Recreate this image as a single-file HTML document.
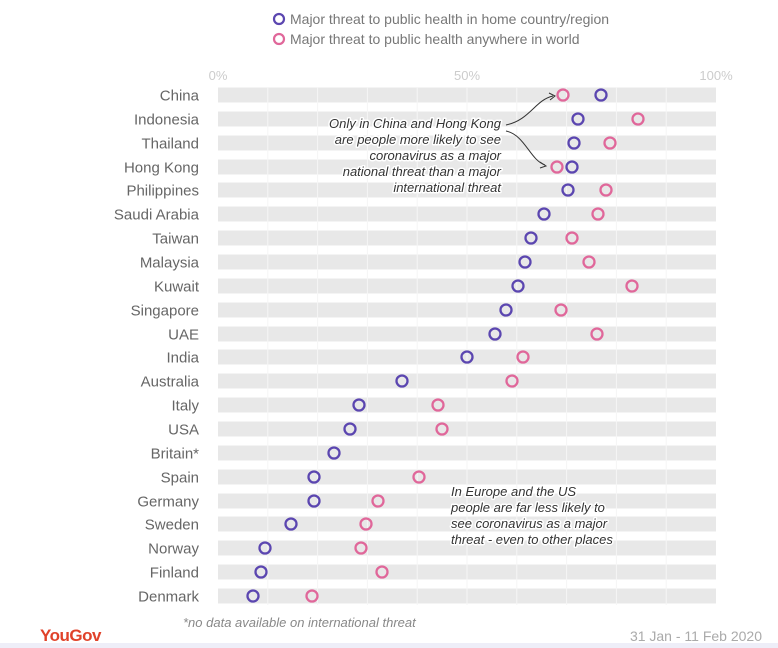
<!DOCTYPE html>
<html><head><meta charset="utf-8"><style>
body{margin:0;background:#fff;}
svg{display:block;font-family:"Liberation Sans",sans-serif;}
</style></head><body>
<svg width="778" height="648" viewBox="0 0 778 648" xmlns="http://www.w3.org/2000/svg">
<rect width="778" height="648" fill="#fff"/>
<rect x="0" y="643" width="778" height="5" fill="#eeeef8"/>
<g font-size="14" fill="#777">
<circle cx="279" cy="19" r="5" fill="none" stroke="#5b46b0" stroke-width="2.2"/>
<text x="290" y="24">Major threat to public health in home country/region</text>
<circle cx="279" cy="39" r="5" fill="none" stroke="#e0679a" stroke-width="2.2"/>
<text x="290" y="44">Major threat to public health anywhere in world</text>
</g>
<g font-size="13" fill="#ccc" text-anchor="middle">
<text x="218" y="80">0%</text><text x="467" y="80">50%</text><text x="716" y="80">100%</text>
</g>
<g fill="#e8e8e8">
<rect x="218" y="87.5" width="498" height="15"/>
<rect x="218" y="111.5" width="498" height="15"/>
<rect x="218" y="135.5" width="498" height="15"/>
<rect x="218" y="159.5" width="498" height="15"/>
<rect x="218" y="182.5" width="498" height="15"/>
<rect x="218" y="206.5" width="498" height="15"/>
<rect x="218" y="230.5" width="498" height="15"/>
<rect x="218" y="254.5" width="498" height="15"/>
<rect x="218" y="278.5" width="498" height="15"/>
<rect x="218" y="302.5" width="498" height="15"/>
<rect x="218" y="326.5" width="498" height="15"/>
<rect x="218" y="349.5" width="498" height="15"/>
<rect x="218" y="373.5" width="498" height="15"/>
<rect x="218" y="397.5" width="498" height="15"/>
<rect x="218" y="421.5" width="498" height="15"/>
<rect x="218" y="445.5" width="498" height="15"/>
<rect x="218" y="469.5" width="498" height="15"/>
<rect x="218" y="493.5" width="498" height="15"/>
<rect x="218" y="516.5" width="498" height="15"/>
<rect x="218" y="540.5" width="498" height="15"/>
<rect x="218" y="564.5" width="498" height="15"/>
<rect x="218" y="588.5" width="498" height="15"/>
</g>
<g fill="#f6f6f6">
<rect x="267.3" y="87" width="1" height="518"/>
<rect x="317.1" y="87" width="1" height="518"/>
<rect x="366.9" y="87" width="1" height="518"/>
<rect x="416.7" y="87" width="1" height="518"/>
<rect x="466.5" y="87" width="1" height="518"/>
<rect x="516.3" y="87" width="1" height="518"/>
<rect x="566.1" y="87" width="1" height="518"/>
<rect x="615.9" y="87" width="1" height="518"/>
<rect x="665.7" y="87" width="1" height="518"/>
</g>
<g font-size="15" fill="#666" text-anchor="end">
<text x="199" y="100.5">China</text>
<text x="199" y="124.5">Indonesia</text>
<text x="199" y="148.5">Thailand</text>
<text x="199" y="172.5">Hong Kong</text>
<text x="199" y="195.5">Philippines</text>
<text x="199" y="219.5">Saudi Arabia</text>
<text x="199" y="243.5">Taiwan</text>
<text x="199" y="267.5">Malaysia</text>
<text x="199" y="291.5">Kuwait</text>
<text x="199" y="315.5">Singapore</text>
<text x="199" y="339.5">UAE</text>
<text x="199" y="362.5">India</text>
<text x="199" y="386.5">Australia</text>
<text x="199" y="410.5">Italy</text>
<text x="199" y="434.5">USA</text>
<text x="199" y="458.5">Britain*</text>
<text x="199" y="482.5">Spain</text>
<text x="199" y="506.5">Germany</text>
<text x="199" y="529.5">Sweden</text>
<text x="199" y="553.5">Norway</text>
<text x="199" y="577.5">Finland</text>
<text x="199" y="601.5">Denmark</text>
</g>
<g fill="none" stroke="#e0679a" stroke-width="2.3">
<circle cx="563" cy="95" r="5.5"/>
<circle cx="638" cy="119" r="5.5"/>
<circle cx="610" cy="143" r="5.5"/>
<circle cx="557" cy="167" r="5.5"/>
<circle cx="606" cy="190" r="5.5"/>
<circle cx="598" cy="214" r="5.5"/>
<circle cx="572" cy="238" r="5.5"/>
<circle cx="589" cy="262" r="5.5"/>
<circle cx="632" cy="286" r="5.5"/>
<circle cx="561" cy="310" r="5.5"/>
<circle cx="597" cy="334" r="5.5"/>
<circle cx="523" cy="357" r="5.5"/>
<circle cx="512" cy="381" r="5.5"/>
<circle cx="438" cy="405" r="5.5"/>
<circle cx="442" cy="429" r="5.5"/>
<circle cx="419" cy="477" r="5.5"/>
<circle cx="378" cy="501" r="5.5"/>
<circle cx="366" cy="524" r="5.5"/>
<circle cx="361" cy="548" r="5.5"/>
<circle cx="382" cy="572" r="5.5"/>
<circle cx="312" cy="596" r="5.5"/>
</g>
<g fill="none" stroke="#5b46b0" stroke-width="2.3">
<circle cx="601" cy="95" r="5.5"/>
<circle cx="578" cy="119" r="5.5"/>
<circle cx="574" cy="143" r="5.5"/>
<circle cx="572" cy="167" r="5.5"/>
<circle cx="568" cy="190" r="5.5"/>
<circle cx="544" cy="214" r="5.5"/>
<circle cx="531" cy="238" r="5.5"/>
<circle cx="525" cy="262" r="5.5"/>
<circle cx="518" cy="286" r="5.5"/>
<circle cx="506" cy="310" r="5.5"/>
<circle cx="495" cy="334" r="5.5"/>
<circle cx="467" cy="357" r="5.5"/>
<circle cx="402" cy="381" r="5.5"/>
<circle cx="359" cy="405" r="5.5"/>
<circle cx="350" cy="429" r="5.5"/>
<circle cx="334" cy="453" r="5.5"/>
<circle cx="314" cy="477" r="5.5"/>
<circle cx="314" cy="501" r="5.5"/>
<circle cx="291" cy="524" r="5.5"/>
<circle cx="265" cy="548" r="5.5"/>
<circle cx="261" cy="572" r="5.5"/>
<circle cx="253" cy="596" r="5.5"/>
</g>
<g font-size="13" font-style="italic" fill="#333" text-anchor="end" stroke="#fff" stroke-width="3" paint-order="stroke" stroke-linejoin="round">
<text x="501" y="128">Only in China and Hong Kong</text>
<text x="501" y="144">are people more likely to see</text>
<text x="501" y="160">coronavirus as a major</text>
<text x="501" y="176">national threat than a major</text>
<text x="501" y="192">international threat</text>
</g>
<g font-size="13" font-style="italic" fill="#333" stroke="#fff" stroke-width="3" paint-order="stroke" stroke-linejoin="round">
<text x="451" y="496">In Europe and the US</text>
<text x="451" y="512">people are far less likely to</text>
<text x="451" y="528">see coronavirus as a major</text>
<text x="451" y="544">threat - even to other places</text>
</g>
<g fill="none" stroke="#333" stroke-width="1">
<path d="M506 125 C530 120 535 100 553 96"/><path d="M549 93 L555 96 L550 100"/>
<path d="M506 131 C525 135 530 160 545 165"/><path d="M540 162 L546 166 L540 168"/>
</g>
<text x="183" y="627" font-size="13" font-style="italic" fill="#888">*no data available on international threat</text>
<text x="40" y="641" font-size="17" font-weight="bold" fill="#e0422a" letter-spacing="-0.5">YouGov</text>
<text x="762" y="641" font-size="14" fill="#aaa" text-anchor="end">31 Jan - 11 Feb 2020</text>
</svg>
</body></html>
